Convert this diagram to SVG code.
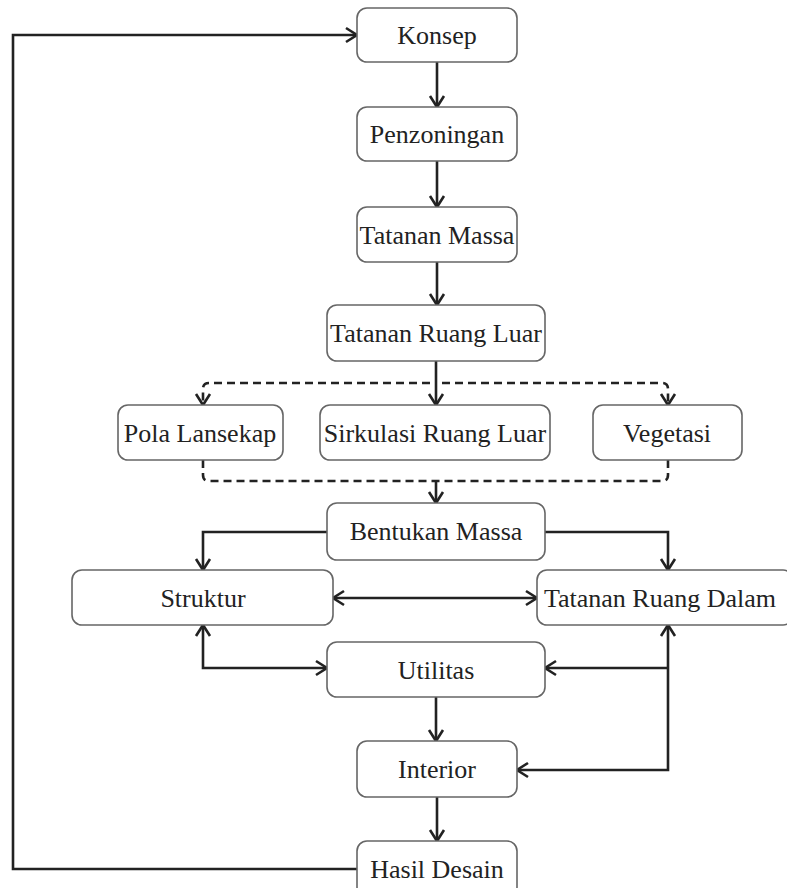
<svg xmlns="http://www.w3.org/2000/svg" width="787" height="888" viewBox="0 0 787 888">
<style>
.box{fill:#fff;stroke:#666;stroke-width:1.6}
.lbl{font-family:"Liberation Serif","Times New Roman",serif;font-size:26px;fill:#222;text-anchor:middle;dominant-baseline:central}
.ln{fill:none;stroke:#222;stroke-width:2.6}
.dash{fill:none;stroke:#222;stroke-width:2.6;stroke-dasharray:8 5}
</style>
<defs>
<marker id="ah" markerUnits="userSpaceOnUse" markerWidth="18" markerHeight="18" refX="14" refY="9" orient="auto-start-reverse">
<path d="M3,2 L14,9 L3,16" fill="none" stroke="#222" stroke-width="2.6"/>
</marker>
</defs>
<rect width="787" height="888" fill="#fff"/>
<g id="connectors">
<path class="ln" d="M437,62 V107" marker-end="url(#ah)"/>
<path class="ln" d="M437,161 V207" marker-end="url(#ah)"/>
<path class="ln" d="M437,262 V305" marker-end="url(#ah)"/>
<path class="ln" d="M436,361 V405" marker-end="url(#ah)"/>
<path class="dash" d="M430,383 H209 Q203,383 203,389 V405" marker-end="url(#ah)"/>
<path class="dash" d="M442,383 H662 Q668,383 668,389 V405" marker-end="url(#ah)"/>
<path class="dash" d="M203,460 V475 Q203,481 209,481 H662 Q668,481 668,475 V460"/>
<path class="ln" d="M436,481 V503" marker-end="url(#ah)"/>
<path class="ln" d="M327,532 H203 V570" marker-end="url(#ah)"/>
<path class="ln" d="M545,532 H668 V570" marker-end="url(#ah)"/>
<path class="ln" d="M333,598 H537" marker-start="url(#ah)" marker-end="url(#ah)"/>
<path class="ln" d="M203,625 V668 H327" marker-start="url(#ah)" marker-end="url(#ah)"/>
<path class="ln" d="M668,625 V770 H517" marker-start="url(#ah)" marker-end="url(#ah)"/>
<path class="ln" d="M668,668 H545" marker-end="url(#ah)"/>
<path class="ln" d="M436,697 V741" marker-end="url(#ah)"/>
<path class="ln" d="M437,797 V841" marker-end="url(#ah)"/>
<path class="ln" d="M357,869 H13 V35 H357" marker-end="url(#ah)"/>
</g>
<g id="konsep"><rect class="box" x="357" y="8" width="160" height="54" rx="10"/><text class="lbl" x="437" y="35">Konsep</text></g>
<g id="penzoningan"><rect class="box" x="357" y="107" width="160" height="54" rx="10"/><text class="lbl" x="437" y="134">Penzoningan</text></g>
<g id="tatanan-massa"><rect class="box" x="357" y="207" width="160" height="55" rx="10"/><text class="lbl" x="437" y="235">Tatanan Massa</text></g>
<g id="tatanan-ruang-luar"><rect class="box" x="327" y="305" width="218" height="56" rx="10"/><text class="lbl" x="436" y="333">Tatanan Ruang Luar</text></g>
<g id="pola-lansekap"><rect class="box" x="118" y="405" width="165" height="55" rx="10"/><text class="lbl" x="200" y="433">Pola Lansekap</text></g>
<g id="sirkulasi-ruang-luar"><rect class="box" x="320" y="405" width="230" height="55" rx="10"/><text class="lbl" x="435" y="433">Sirkulasi Ruang Luar</text></g>
<g id="vegetasi"><rect class="box" x="593" y="405" width="149" height="55" rx="10"/><text class="lbl" x="667" y="433">Vegetasi</text></g>
<g id="bentukan-massa"><rect class="box" x="327" y="503" width="218" height="57" rx="10"/><text class="lbl" x="436" y="531">Bentukan Massa</text></g>
<g id="struktur"><rect class="box" x="72" y="570" width="261" height="55" rx="10"/><text class="lbl" x="203" y="598">Struktur</text></g>
<g id="tatanan-ruang-dalam"><rect class="box" x="537" y="570" width="256" height="55" rx="10"/><text class="lbl" x="660" y="598">Tatanan Ruang Dalam</text></g>
<g id="utilitas"><rect class="box" x="327" y="642" width="218" height="55" rx="10"/><text class="lbl" x="436" y="670">Utilitas</text></g>
<g id="interior"><rect class="box" x="357" y="741" width="160" height="56" rx="10"/><text class="lbl" x="437" y="769">Interior</text></g>
<g id="hasil-desain"><rect class="box" x="357" y="841" width="160" height="56" rx="10"/><text class="lbl" x="437" y="869">Hasil Desain</text></g>
</svg>
